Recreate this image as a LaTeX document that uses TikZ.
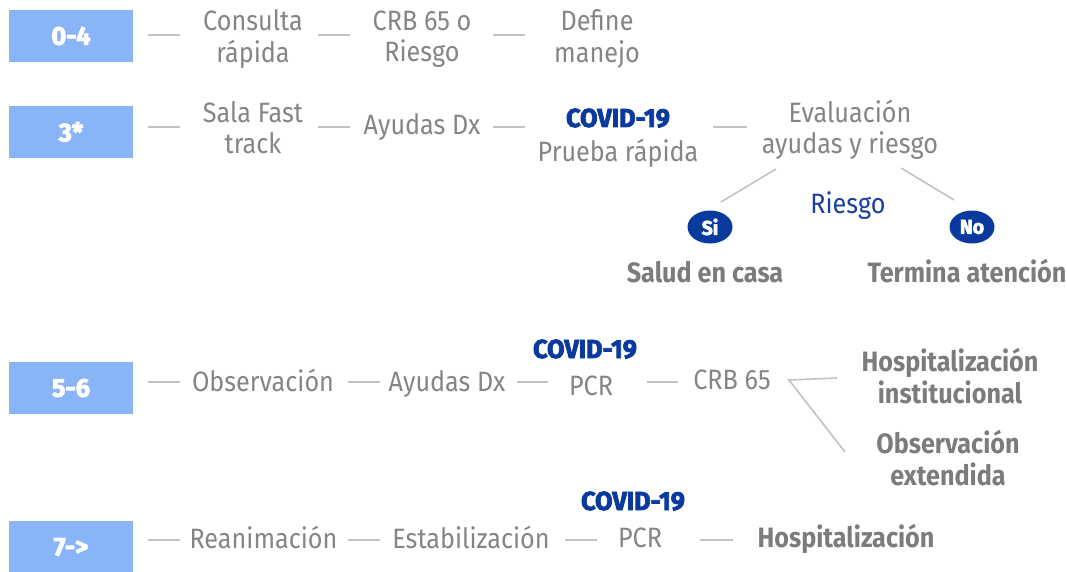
\documentclass[tikz,border=0pt]{standalone}
\usepackage{fontspec}
\setmainfont{Fira Sans}[FakeStretch=0.9]
\newfontfamily\heavyfont{Fira Sans}[FakeStretch=0.97,BoldFeatures={FakeBold=3}]
\usetikzlibrary{shapes.geometric}
\definecolor{triageblue}{HTML}{8AB4F8}
\definecolor{stepgray}{HTML}{858585}
\definecolor{endgray}{HTML}{7C7C7C}
\definecolor{covidblue}{HTML}{0A3A9E}
\definecolor{riskblue}{HTML}{1C3F9F}
\definecolor{linkgray}{HTML}{C2C2C2}
\tikzset{
  triage/.style={fill=triageblue, minimum width=124pt, minimum height=52pt, inner sep=0pt,
    text=white, font=\heavyfont\fontsize{26}{28}\selectfont\bfseries},
  stage/.style={anchor=base, inner sep=0pt, align=center, text=stepgray,
    font=\fontsize{28}{31.5}\selectfont},
  outcome/.style={stage, text=endgray, font=\fontsize{28}{31.5}\selectfont\bfseries},
  covid/.style={anchor=base, inner sep=0pt, text=covidblue,
    font=\heavyfont\fontsize{26}{28}\selectfont\bfseries},
  answer/.style={ellipse, fill=covidblue, minimum width=45pt, minimum height=33pt, inner sep=0pt,
    text=white, font=\heavyfont\fontsize{20}{22}\selectfont\bfseries},
  link/.style={draw=linkgray, line width=1.6pt}
}
\begin{document}
\begin{tikzpicture}[x=1pt, y=-1pt]
    \useasboundingbox (0,0) rectangle (1067,572);
    \coordinate (row1) at (0,35);
    \coordinate (row2) at (0,127);
    \coordinate (row3) at (0,382);
    \coordinate (row4) at (0,540);

    \node[triage] (b04) at (71,36) {0-4};
    \node[stage] (cons) at (253,62.5) {Consulta\\rápida};
    \node[stage] (crb) at (422,62) {CRB 65 o\\Riesgo};
    \node[stage] (def) at (597,62.5) {Define\\manejo};
    \draw[link, shorten <=77pt, shorten >=73pt] (row1 -| b04) -- (row1 -| cons);
    \draw[link, shorten <=65pt, shorten >=72pt] (row1 -| cons) -- (row1 -| crb);
    \draw[link, shorten <=71pt, shorten >=72pt] (row1 -| crb) -- (row1 -| def);

    \node[triage] (b3) at (71,132) {3*};
    \node[stage] (sala) at (253,153.5) {Sala Fast\\track};
    \node[stage] (ayu) at (422,135) {Ayudas Dx};
    \node[covid] (cv1) at (618,127) {COVID-19};
    \node[stage] (prueba) at (618,162) {Prueba rápida};
    \node[stage] (eval) at (850,154) {Evaluación\\ayudas y riesgo};
    \draw[link, shorten <=77pt, shorten >=73pt] (row2 -| b3) -- (row2 -| sala);
    \draw[link, shorten <=65pt, shorten >=72pt] (row2 -| sala) -- (row2 -| ayu);
    \draw[link, shorten <=71pt, shorten >=93pt] (row2 -| ayu) -- (row2 -| prueba);
    \draw[link, shorten <=95pt, shorten >=103pt] (row2 -| prueba) -- (row2 -| eval);

    \node[stage, text=riskblue] (riesgo) at (848,213) {Riesgo};
    \node[answer] (si) at (710,227) {Si};
    \node[answer] (no) at (972,227) {No};
    \node[outcome] (casa) at (705,282) {Salud en casa};
    \node[outcome] (termina) at (967,282) {Termina atención};
    \coordinate (evsi) at (776,169);
    \coordinate (atsi) at (721,202);
    \coordinate (evno) at (901,168);
    \coordinate (atno) at (954,200);
    \draw[link] (evsi) -- (atsi);
    \draw[link] (evno) -- (atno);

    \node[triage] (b56) at (71,388) {5-6};
    \node[stage] (obs) at (263,391) {Observación};
    \node[stage] (ayu2) at (447,391) {Ayudas Dx};
    \node[covid] (cv2) at (585,358) {COVID-19};
    \node[stage] (pcr) at (591,395) {PCR};
    \node[stage] (crb2) at (732,389) {CRB 65};
    \node[outcome] (hi) at (950,403) {Hospitalización\\institucional};
    \node[outcome] (oe) at (948,485) {Observación\\extendida};
    \draw[link, shorten <=77pt, shorten >=83pt] (row3 -| b56) -- (row3 -| obs);
    \draw[link, shorten <=85pt, shorten >=67pt] (row3 -| obs) -- (row3 -| ayu2);
    \draw[link, shorten <=70pt, shorten >=43pt] (row3 -| ayu2) -- (row3 -| pcr);
    \draw[link, shorten <=56pt, shorten >=54pt] (row3 -| pcr) -- (row3 -| crb2);
    \coordinate (fork) at (789,380);
    \coordinate (tohi) at (837,378);
    \coordinate (tooe) at (845,452);
    \draw[link] (tohi) -- (fork) -- (tooe);

    \node[triage] (b7) at (71,547) {7->};
    \node[stage] (rean) at (263.5,548) {Reanimación};
    \node[stage] (estab) at (471,548) {Estabilización};
    \node[covid] (cv3) at (633,510) {COVID-19};
    \node[stage] (pcr2) at (640,547) {PCR};
    \node[outcome] (hosp) at (846,547) {Hospitalización};
    \draw[link, shorten <=77pt, shorten >=83.5pt] (row4 -| b7) -- (row4 -| rean);
    \draw[link, shorten <=84.5pt, shorten >=91pt] (row4 -| rean) -- (row4 -| estab);
    \draw[link, shorten <=94pt, shorten >=43pt] (row4 -| estab) -- (row4 -| pcr2);
    \draw[link, shorten <=60pt, shorten >=113pt] (row4 -| pcr2) -- (row4 -| hosp);
\end{tikzpicture}
\end{document}
